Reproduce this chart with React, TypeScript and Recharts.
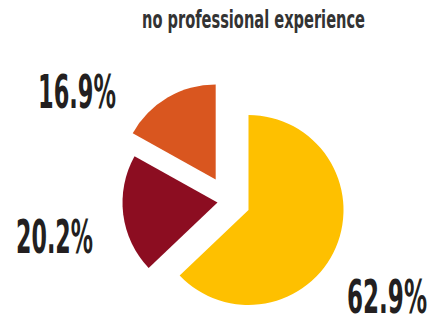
import React from "react";
import { PieChart, Pie, Cell, Customized } from "recharts";

const categories = ["yellow", "red", "orange"];
const shares = [62.9, 20.2, 16.9];
const percentLabels = ["62.9%", "20.2%", "16.9%"];
const title = "no professional experience";

const COLORS = ["#FEC000", "#8C0D21", "#D9561F"];
const CENTERS = [
  { cx: 248.5, cy: 210 },
  { cx: 217.5, cy: 202.5 },
  { cx: 215.7, cy: 179.5 },
];
const LABEL_POS = [
  { x: 347, y: 312.7, w: 80 },
  { x: 16, y: 252.7, w: 77 },
  { x: 38, y: 108.3, w: 78 },
];

const data = categories.map((name, i) => ({ name, value: shares[i] }));

const FONT = "'Liberation Sans Narrow', 'DejaVu Sans Condensed', 'DejaVu Sans', sans-serif";

const Texts = () => (
  <g>
    <text
      x={142}
      y={28}
      fontFamily={FONT}
      fontWeight="bold"
      fontSize={24}
      fill="#333333"
      textLength={223}
      lengthAdjust="spacingAndGlyphs"
    >
      {title}
    </text>
    {percentLabels.map((t, i) => (
      <text
        key={t}
        x={LABEL_POS[i].x}
        y={LABEL_POS[i].y}
        fontFamily={FONT}
        fontWeight="bold"
        fontSize={46}
        fill="#231F20"
        textLength={LABEL_POS[i].w}
        lengthAdjust="spacingAndGlyphs"
      >
        {t}
      </text>
    ))}
  </g>
);

export default function App() {
  return (
    <div style={{ position: "absolute", left: 0, top: 0, background: "#fff" }}>
      <PieChart width={432} height={316} margin={{ top: 0, right: 0, bottom: 0, left: 0 }}>
        {CENTERS.map((c, k) => (
          <Pie
            key={k}
            data={data}
            dataKey="value"
            cx={c.cx}
            cy={c.cy}
            outerRadius={95}
            innerRadius={0}
            startAngle={90}
            endAngle={-270}
            stroke="none"
            isAnimationActive={false}
          >
            {data.map((d, i) => (
              <Cell key={d.name} fill={i === k ? COLORS[i] : "none"} stroke="none" />
            ))}
          </Pie>
        ))}
        <Customized component={Texts} />
      </PieChart>
    </div>
  );
}
